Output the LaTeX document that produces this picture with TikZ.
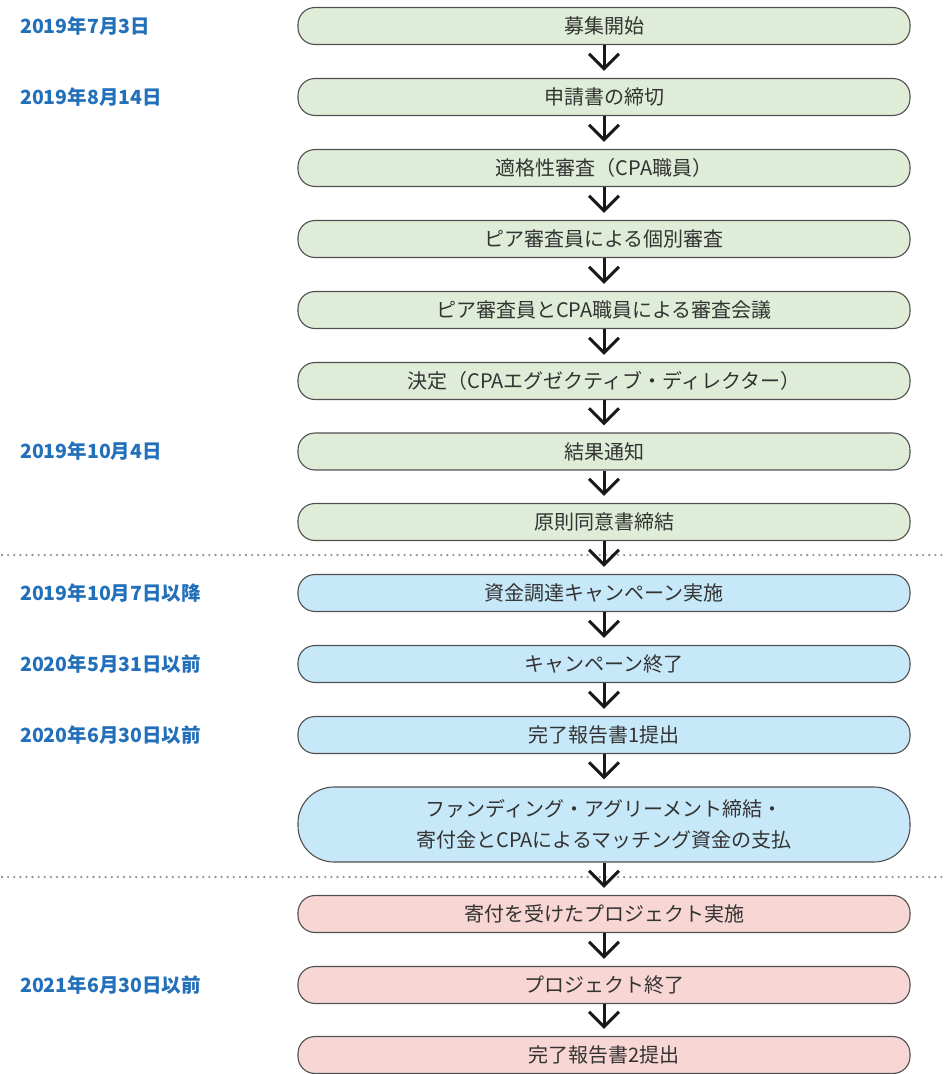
\documentclass[tikz,border=0pt]{standalone}
\usepackage{fontspec}
\setmainfont{Noto Sans CJK JP}
\usetikzlibrary{arrows.meta}
\definecolor{gfill}{RGB}{223,237,216}
\definecolor{bfill}{RGB}{199,232,248}
\definecolor{pfill}{RGB}{248,214,212}
\definecolor{edge}{RGB}{80,80,80}
\definecolor{boxtext}{RGB}{51,51,51}
\definecolor{datecol}{RGB}{35,112,186}
\definecolor{dotcol}{RGB}{150,150,150}
\tikzset{
  stage/.style={draw=edge, line width=1.1pt, minimum width=612pt, minimum height=37pt,
    rounded corners=17pt, text=boxtext, font=\fontsize{20}{31}\selectfont, align=center, inner sep=0pt},
  gstage/.style={stage, fill=gfill},
  bstage/.style={stage, fill=bfill},
  pstage/.style={stage, fill=pfill},
  datelabel/.style={anchor=west, text=datecol, font=\fontsize{19.5}{21}\selectfont\bfseries, inner sep=0pt},
  flow/.style={draw=black!90, line width=3pt, -{Straight Barb[length=15pt,width=30pt,line width=3pt]}, shorten >=7pt},
  sep/.style={draw=dotcol, line width=2.6pt, line cap=round, dash pattern=on 0pt off 6.1pt}
}
\begin{document}
\begin{tikzpicture}[x=1pt,y=-1pt]
\useasboundingbox (0,0) rectangle (947,1074);
% separators
\coordinate (s1l) at (2,555); \coordinate (s1r) at (947,555);
\coordinate (s2l) at (2,877); \coordinate (s2r) at (947,877);
\draw[sep] (s1l) -- (s1r);
\draw[sep] (s2l) -- (s2r);
% stages
\node[gstage] (b1) at (604,26) {募集開始};
\node[gstage] (b2) at (604,97) {申請書の締切};
\node[gstage] (b3) at (604,168) {適格性審査（CPA職員）};
\node[gstage] (b4) at (604,239) {ピア審査員による個別審査};
\node[gstage] (b5) at (604,310) {ピア審査員とCPA職員による審査会議};
\node[gstage] (b6) at (604,381) {決定（CPAエグゼクティブ・ディレクター）};
\node[gstage] (b7) at (604,451.5) {結果通知};
\node[gstage] (b8) at (604,522) {原則同意書締結};
\node[bstage] (c1) at (604,593) {資金調達キャンペーン実施};
\node[bstage] (c2) at (604,664) {キャンペーン終了};
\node[bstage] (c3) at (604,735) {完了報告書1提出};
\node[bstage, minimum height=75pt, rounded corners=36pt] (c4) at (604,824.5) {ファンディング・アグリーメント締結・\\寄付金とCPAによるマッチング資金の支払};
\node[pstage] (d1) at (604,914) {寄付を受けたプロジェクト実施};
\node[pstage] (d2) at (604,985) {プロジェクト終了};
\node[pstage] (d3) at (604,1055) {完了報告書2提出};
% arrows
\foreach \a/\b in {b1/b2,b2/b3,b3/b4,b4/b5,b5/b6,b6/b7,b7/b8,b8/c1,c1/c2,c2/c3,c3/c4,c4/d1,d1/d2,d2/d3}
  \draw[flow] (\a.south) -- (\b.north);
% dates
\node[datelabel] (t1) at (20,26) {2019年7月3日};
\node[datelabel] (t2) at (20,97) {2019年8月14日};
\node[datelabel] (t3) at (20,451.5) {2019年10月4日};
\node[datelabel] (t4) at (20,593) {2019年10月7日以降};
\node[datelabel] (t5) at (20,664) {2020年5月31日以前};
\node[datelabel] (t6) at (20,735) {2020年6月30日以前};
\node[datelabel] (t7) at (20,985) {2021年6月30日以前};
\end{tikzpicture}
\end{document}
